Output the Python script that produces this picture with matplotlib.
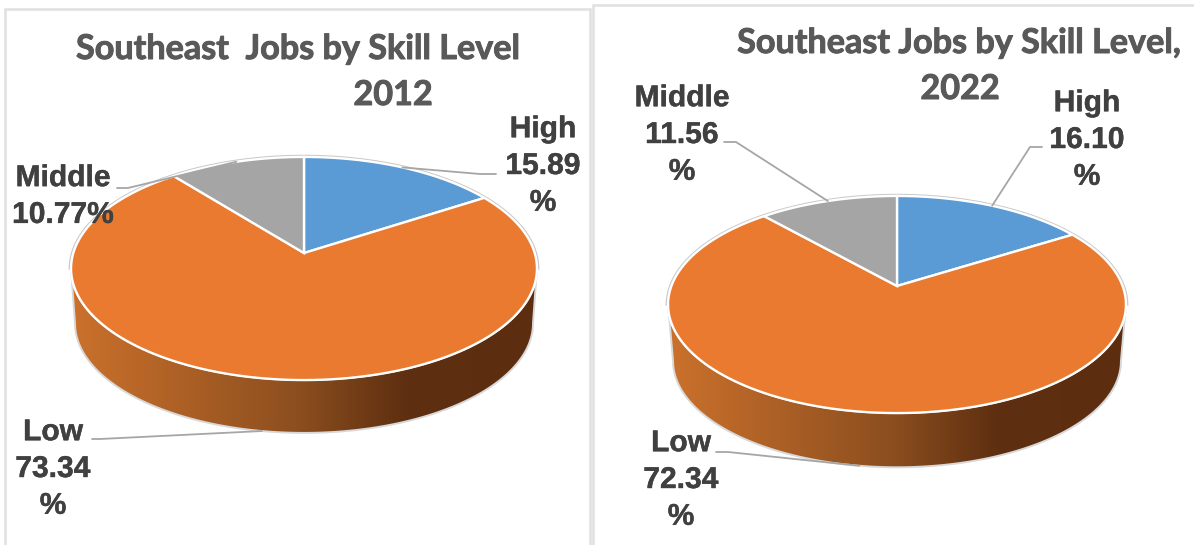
#!/usr/bin/env python3

import numpy as np
import matplotlib
matplotlib.use('Agg')
import matplotlib.pyplot as plt
import matplotlib.patheffects as pe
from matplotlib.patches import Polygon, Rectangle
from matplotlib.colors import LinearSegmentedColormap

# ============= Data
categories = ['High', 'Low', 'Middle']
shares2012 = [15.89, 73.34, 10.77]
shares2022 = [16.10, 72.34, 11.56]

# ============= Variables
figDimX = 11.94
figDimY = 5.45
titleColor = '#595959'
labelColor = '#404040'
leaderColor = '#a6a6a6'
frameColor = '#e0e0e0'
sliceColors = ['#5b9bd5', '#e97a2f', '#a5a5a5']
wallCmap = LinearSegmentedColormap.from_list('wall', [(0, '#cb712c'), (0.48, '#8d4f1f'), (0.72, '#5e2f10'), (1, '#5c2d0f')])
titleFont = {'family': 'Lato', 'weight': 'bold', 'color': titleColor, 'size': 24.6,
             'path_effects': [pe.withStroke(linewidth=0.7, foreground=titleColor)]}
labelFont = {'family': 'Liberation Sans', 'weight': 'bold', 'color': labelColor, 'size': 21.6,
             'path_effects': [pe.withStroke(linewidth=0.3, foreground=labelColor)]}


def project(angle, cx, cy, a, b, k):
    # angle in degrees, clockwise from the top of the disc, with perspective
    t = np.radians(angle)
    depth = 1 + k * np.cos(t)
    return cx + a * np.sin(t) / depth, cy - b * np.cos(t) / depth


def draw_pie(ax, shares, cx, cy, a, b, k, scale, drop, labelPos, labelWraps, bends):
    bottom = (cx, cy + drop, a * scale, b * scale, k)
    top = (cx, cy, a, b, k)

    # side wall, between the widest points of the top and bottom rims
    widest = 90 + np.degrees(np.arcsin(k))
    front = np.linspace(widest, 360 - widest, 200)
    tx, ty = project(front, *top)
    bx, by = project(front, *bottom)
    wallPts = np.r_[np.c_[tx, ty], np.c_[bx, by][::-1]]
    wall = Polygon(wallPts, closed=True, fc='none', ec='none', zorder=2)
    ax.add_patch(wall)
    grad = np.linspace(0, 1, 256).reshape(1, -1)
    img = ax.imshow(grad, extent=(min(tx.min(), bx.min()), max(tx.max(), bx.max()), by.max(), ty.min()),
                    cmap=wallCmap, aspect='auto', zorder=2.5)
    img.set_clip_path(wall)
    ax.add_patch(Polygon(wallPts, closed=True, fc='none', ec='#d8d8d8', lw=1.4, zorder=2.7))

    # light outline around the back half of the top disc
    back = np.linspace(-widest, widest, 200)
    ox, oy = project(back, cx, cy, a + 1.5, b + 1.5, k)
    ax.plot(ox, oy, color='#c9c9c9', lw=1.3, zorder=3)

    # slices go clockwise from 12 o'clock
    edges = np.r_[0, np.cumsum(shares)] * 360 / np.sum(shares)
    for i in range(len(shares)):
        arc = np.linspace(edges[i], edges[i + 1], 150)
        x, y = project(arc, *top)
        pts = np.r_[[[cx, cy]], np.c_[x, y]]
        ax.add_patch(Polygon(pts, closed=True, fc=sliceColors[i], ec='white', lw=1.7, joinstyle='miter', zorder=4))

    # labels and their leader lines, ending at the middle of each slice's edge
    mids = (edges[:-1] + edges[1:]) / 2
    for i, name in enumerate(categories):
        txt = name + labelWraps[i].format(shares[i])
        ax.text(labelPos[i][0], labelPos[i][1], txt, ha='center', va='center', ma='center', linespacing=1.4, zorder=6, **labelFont)
        # the Low slice is labelled on its wall, so it ends on the lower rim
        ex, ey = project(mids[i], *(bottom if mids[i] > 90 and mids[i] < 270 else top))
        sx, sy, bendx = bends[i]
        ax.plot([sx, bendx, ex], [sy, sy, ey], color=leaderColor, lw=1.3, zorder=5, solid_capstyle='round')


# ============= Initialize Figure
fig = plt.figure(figsize=(figDimX, figDimY), dpi=100, facecolor='white')
ax = fig.add_axes([0, 0, 1, 1])

ax.add_patch(Rectangle((5, 9), 585, 560, fc='white', ec=frameColor, lw=1.8, zorder=1))
ax.add_patch(Rectangle((593, 5), 640, 560, fc='white', ec=frameColor, lw=1.8, zorder=1))

# ============= 2012
ax.text(298, 49, 'Southeast  Jobs by Skill Level', ha='center', va='center', **titleFont)
ax.text(393, 95, '2012', ha='center', va='center', **titleFont)
draw_pie(ax, shares2012, 304, 253, 230.7, 109.4, 0.139, 0.983, 55,
         [(543, 166), (53, 469), (63, 196.5)],
         ['\n{:.2f}\n%', '\n{:.2f}\n%', '\n{:.2f}%'],
         [(496, 174, 480), (92, 439, 100), (117, 188, 128)])

# ============= 2022
ax.text(959, 43, 'Southeast Jobs by Skill Level,', ha='center', va='center', **titleFont)
ax.text(960, 89, '2022', ha='center', va='center', **titleFont)
draw_pie(ax, shares2022, 897, 286, 225.6, 105.4, 0.1706, 0.978, 57,
         [(1087, 140), (681, 480), (682, 135)],
         ['\n{:.2f}\n%', '\n{:.2f}\n%', '\n{:.2f}\n%'],
         [(1042, 147, 1030), (716, 452, 728), (724, 142, 736)])

ax.set_xlim(0, 1194)
ax.set_ylim(545, 0)
ax.axis('off')

fig.savefig('out.png', dpi=100)
